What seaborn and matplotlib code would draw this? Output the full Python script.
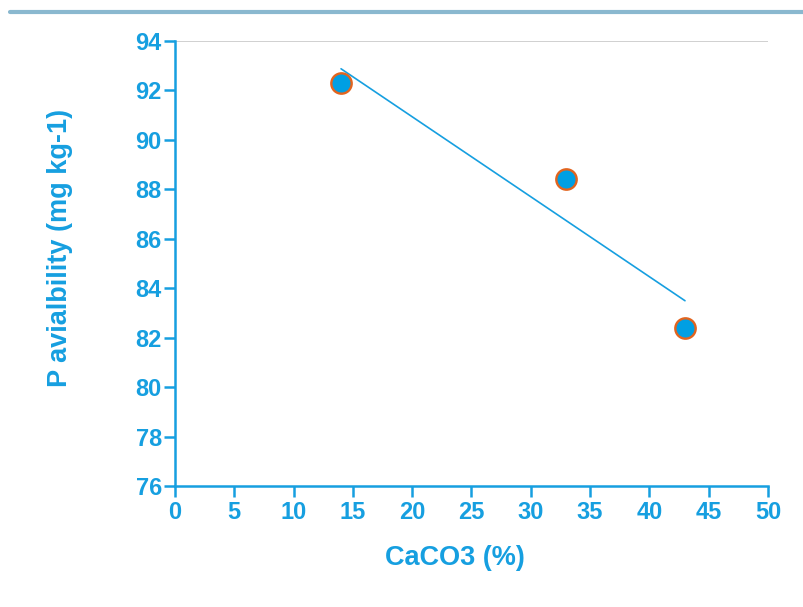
import matplotlib
matplotlib.use("Agg")
import matplotlib.pyplot as plt
import seaborn as sns
import pandas as pd
from matplotlib.lines import Line2D

caco3 = [14, 33, 43]
p_avail = [92.3, 88.4, 82.4]
x_ticks = [0, 5, 10, 15, 20, 25, 30, 35, 40, 45, 50]
y_ticks = [76, 78, 80, 82, 84, 86, 88, 90, 92, 94]

df = pd.DataFrame({"CaCO3": caco3, "P": p_avail})

BLUE = "#169fe0"
FILL = "#009fe3"
EDGE = "#e2641e"

sns.set_theme(style="white")
plt.rcParams["font.family"] = ["Liberation Sans", "DejaVu Sans"]

fig = plt.figure(figsize=(8.04, 6.07), dpi=100)
ax = fig.add_axes([175/804, 1-486/607, (768-175)/804, (486-41)/607])

sns.regplot(data=df, x="CaCO3", y="P", ax=ax, ci=None, truncate=True,
            scatter=False, line_kws=dict(color=BLUE, lw=1.2))
sns.scatterplot(data=df, x="CaCO3", y="P", ax=ax, s=215, color=FILL,
                edgecolor=EDGE, linewidth=1.7, zorder=5)

ax.set_xlim(0, 50)
ax.set_ylim(76, 94)
ax.set_xticks(x_ticks)
ax.set_yticks(y_ticks)
ax.axhline(94, color="#c8c8c8", lw=1.2, zorder=0)

for s in ["top", "right"]:
    ax.spines[s].set_visible(False)
for s in ["left", "bottom"]:
    ax.spines[s].set_color(BLUE)
    ax.spines[s].set_linewidth(1.8)

ax.tick_params(axis="both", bottom=True, left=True, colors=BLUE, direction="out",
               length=8, width=1.8, labelsize=17, pad=1.5)
ax.tick_params(axis="x", pad=3)
for lab in ax.get_xticklabels() + ax.get_yticklabels():
    lab.set_fontweight("bold")
    lab.set_color(BLUE)

ax.set_xlabel("CaCO3 (%)", fontsize=19.5, fontweight="bold", color=BLUE)
ax.set_ylabel("P avialbility (mg kg-1)", fontsize=19.5, fontweight="bold", color=BLUE)
ax.xaxis.set_label_coords((455 - 175) / 593, -(545 - 486) / 445)
ax.yaxis.set_label_coords((73 - 175) / 593, (486 - 248) / 445)

fig.add_artist(Line2D([10/804, 1.0], [1-12/607, 1-12/607], color="#8ab8cf", lw=3,
                      transform=fig.transFigure))

fig.savefig("out.png", dpi=100)
